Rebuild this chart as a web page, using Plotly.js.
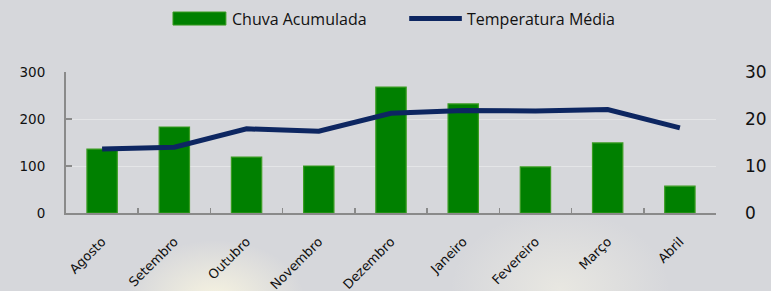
<!DOCTYPE html>
<html><head><meta charset="utf-8">
<script src="https://cdn.plot.ly/plotly-3.0.1.min.js"></script>
<style>
html,body{margin:0;padding:0;}
body{width:771px;height:291px;overflow:hidden;
background:
 radial-gradient(ellipse 90px 60px at 215px 300px, rgba(250,246,225,0.9), rgba(250,246,225,0) 100%),
 radial-gradient(ellipse 110px 80px at 560px 290px, rgba(240,238,228,0.7), rgba(240,238,228,0) 100%),
 #d6d7db;}
#chart{width:771px;height:291px;}
</style></head>
<body><div id="chart"></div>
<script>
var meses = ["Agosto","Setembro","Outubro","Novembro","Dezembro","Janeiro","Fevereiro","Março","Abril"];
var chuva = [136, 183, 119, 100, 268, 232, 98, 149, 57];
var temperatura = [13.6, 14.0, 17.9, 17.4, 21.2, 21.8, 21.7, 22.0, 18.1];
var nomeChuva = "Chuva Acumulada";
var nomeTemp = "Temperatura Média";
var corChuva = "#008000", corBorda = "#3a9c22", corTemp = "#0d2661";

var traces = [
 {type:"bar", x:meses, y:chuva, name:nomeChuva, showlegend:false,
  marker:{color:corChuva, line:{color:corBorda, width:1.2}}, yaxis:"y"},
 {type:"scatter", mode:"lines", x:meses, y:temperatura, name:nomeTemp, showlegend:false,
  line:{color:corTemp, width:5}, yaxis:"y2"}
];
var legFont = {family:"'Open Sans', sans-serif", size:16, color:"#111"};
var layout = {
 width:771, height:291,
 margin:{l:66, r:55, t:72, b:78},
 paper_bgcolor:"rgba(0,0,0,0)", plot_bgcolor:"rgba(0,0,0,0)",
 font:{family:"DejaVu Sans, sans-serif", color:"#111"},
 bargap:0.58,
 showlegend:false,
 shapes:[
  {type:"rect", xref:"paper", yref:"paper", x0:0.1646, x1:0.246, y0:1.333, y1:1.4255,
   fillcolor:corChuva, line:{color:corBorda, width:1}},
  {type:"line", xref:"paper", yref:"paper", x0:0.528, x1:0.609, y0:1.379, y1:1.379,
   line:{color:corTemp, width:5}}
 ],
 annotations:[
  {xref:"paper", yref:"paper", x:0.2523, y:1.379, xanchor:"left", yanchor:"middle",
   text:nomeChuva, showarrow:false, font:legFont},
  {xref:"paper", yref:"paper", x:0.6138, y:1.379, xanchor:"left", yanchor:"middle",
   text:nomeTemp, showarrow:false, font:legFont}
 ],
 xaxis:{type:"category", tickangle:-45, showline:true, linecolor:"#8a8a8a", linewidth:2,
   ticks:"inside", ticklen:5, tickcolor:"#8a8a8a", tickwidth:1.5, tickson:"boundaries",
   tickfont:{size:13, family:"DejaVu Sans, sans-serif", color:"#111"}, showgrid:false, ticklabelstandoff:14},
 yaxis:{range:[0,300], dtick:100, showline:true, linecolor:"#8a8a8a", linewidth:2,
   ticks:"inside", ticklen:6, tickcolor:"#8a8a8a", tickwidth:1.5,
   tickfont:{size:13.5, color:"#111"}, showgrid:true, gridcolor:"rgba(255,255,255,0.35)", gridwidth:1,
   zeroline:false, ticklabelstandoff:16},
 yaxis2:{range:[0,30], dtick:10, overlaying:"y", side:"right", showline:false, showgrid:false,
   zeroline:false, tickfont:{size:17, color:"#111"}, ticklabelstandoff:28}
};
Plotly.newPlot("chart", traces, layout, {displayModeBar:false, staticPlot:true});
</script></body></html>
